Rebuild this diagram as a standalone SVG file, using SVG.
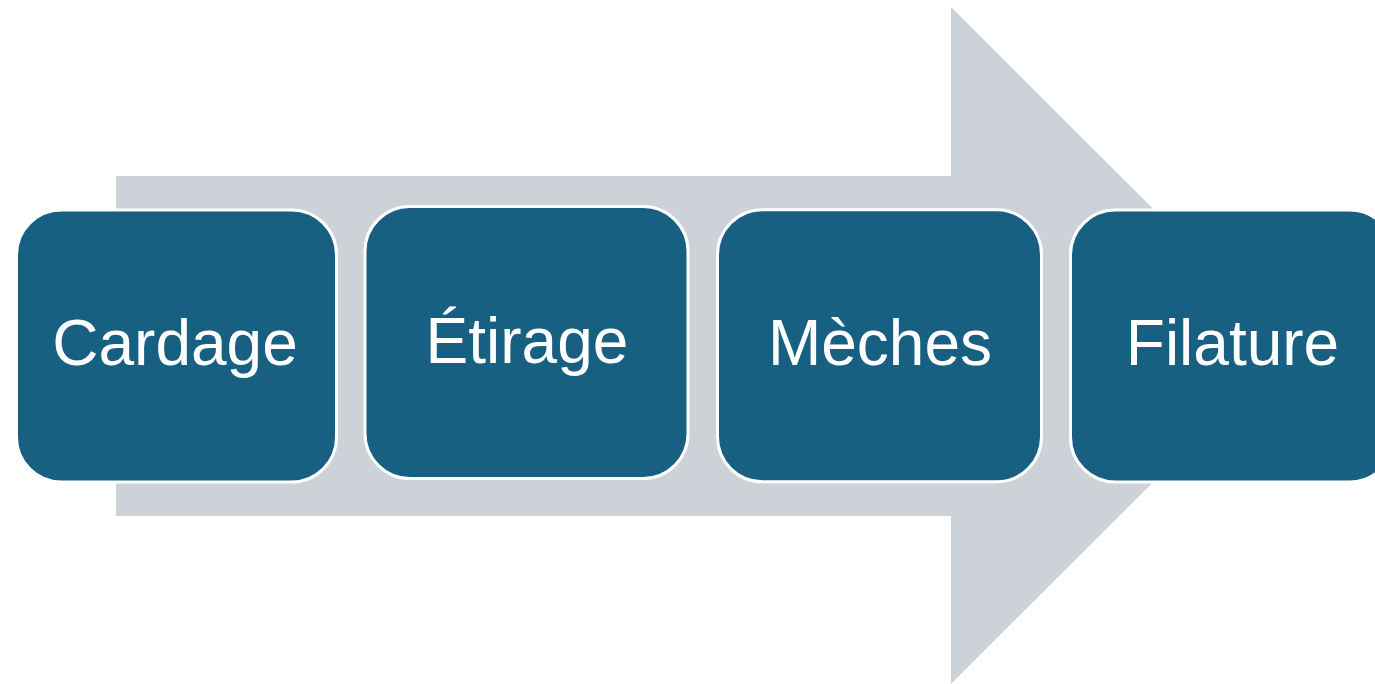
<svg xmlns="http://www.w3.org/2000/svg" width="1375" height="684" viewBox="0 0 1375 684">
  <style>
    .box { fill: #176082; stroke: #ffffff; stroke-width: 3; }
    .lbl { fill: #ffffff; font-family: "Liberation Sans", Arial, sans-serif; font-size: 64px; text-anchor: middle; }
  </style>
  <rect width="1375" height="684" fill="#ffffff"/>
  <g id="connectors">
    <polygon id="arrow" points="116,176 951,176 951,7 1290,345.5 951,684 951,516 116,516" fill="#CDD2D9"/>
  </g>
  <g id="node-cardage">
    <rect class="box" x="16.5" y="210" width="320" height="272" rx="45" ry="45"/>
    <text class="lbl" x="175" y="365">Cardage</text>
  </g>
  <g id="node-etirage">
    <rect class="box" x="365" y="206.5" width="323" height="272" rx="45" ry="45"/>
    <text class="lbl" x="527" y="362.5">Étirage</text>
  </g>
  <g id="node-meches">
    <rect class="box" x="717.5" y="209.8" width="324" height="272" rx="45" ry="45"/>
    <text class="lbl" x="880" y="365">Mèches</text>
  </g>
  <g id="node-filature">
    <rect class="box" x="1070.5" y="210" width="324" height="272" rx="45" ry="45"/>
    <text class="lbl" x="1232.5" y="365">Filature</text>
  </g>
</svg>
